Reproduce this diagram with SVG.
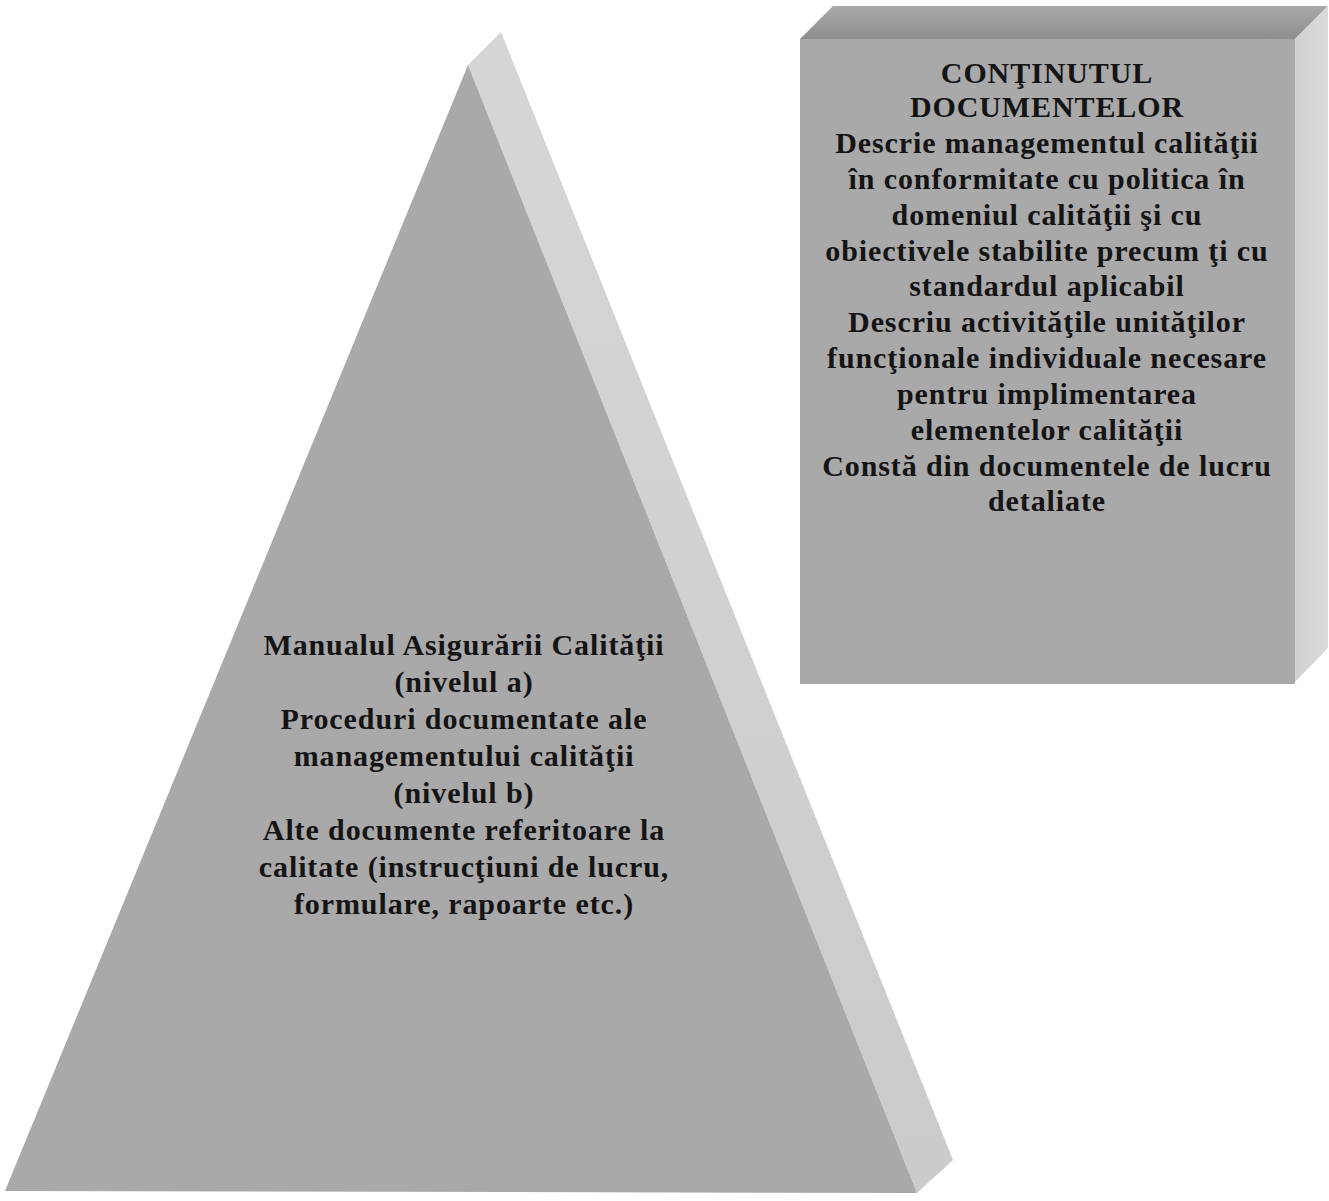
<svg xmlns="http://www.w3.org/2000/svg" width="1329" height="1201" viewBox="0 0 1329 1201">
<defs>
<linearGradient id="gTop" x1="0" y1="1" x2="0" y2="0">
<stop offset="0" stop-color="#8e8e8e"/>
<stop offset="1" stop-color="#a9a9a9"/>
</linearGradient>
<linearGradient id="gSide" x1="0" y1="0" x2="1" y2="0">
<stop offset="0" stop-color="#cfcfcf"/>
<stop offset="1" stop-color="#dcdcdc"/>
</linearGradient>
<linearGradient id="gPyrSide" x1="0" y1="0" x2="0" y2="1">
<stop offset="0" stop-color="#d6d6d6"/>
<stop offset="1" stop-color="#cbcbcb"/>
</linearGradient>
<style>
.t{font-family:"Liberation Serif","Times New Roman",serif;font-weight:bold;font-size:30px;letter-spacing:0.9px;fill:#141414;text-anchor:middle}
.front{fill:#a9a9a9}
</style>
</defs>
<rect width="1329" height="1201" fill="#ffffff"/>
<g id="pyramid">
<polygon points="468,65 501,32 953,1160 917,1193" fill="url(#gPyrSide)"/>
<polygon class="front" points="468,65 917,1193 5,1191"/>
<text class="t" x="464" y="655">Manualul Asigurării Calităţii</text>
<text class="t" x="464" y="692">(nivelul a)</text>
<text class="t" x="464" y="729">Proceduri documentate ale</text>
<text class="t" x="464" y="766">managementului calităţii</text>
<text class="t" x="464" y="803">(nivelul b)</text>
<text class="t" x="464" y="840">Alte documente referitoare la</text>
<text class="t" x="464" y="877">calitate (instrucţiuni de lucru,</text>
<text class="t" x="464" y="914">formulare, rapoarte etc.)</text>
</g>
<g id="box">
<polygon points="800,39 833,6 1328,6 1295,39" fill="url(#gTop)"/>
<polygon points="1295,39 1328,6 1328,648 1293,684" fill="url(#gSide)"/>
<rect class="front" x="800" y="39" width="495" height="645"/>
<text class="t" x="1047" y="83">CONŢINUTUL</text>
<text class="t" x="1047" y="117">DOCUMENTELOR</text>
<text class="t" x="1047" y="153">Descrie managementul calităţii</text>
<text class="t" x="1047" y="189">în conformitate cu politica în</text>
<text class="t" x="1047" y="225">domeniul calităţii şi cu</text>
<text class="t" x="1047" y="261">obiectivele stabilite precum ţi cu</text>
<text class="t" x="1047" y="296">standardul aplicabil</text>
<text class="t" x="1047" y="332">Descriu activităţile unităţilor</text>
<text class="t" x="1047" y="368">funcţionale individuale necesare</text>
<text class="t" x="1047" y="404">pentru implimentarea</text>
<text class="t" x="1047" y="440">elementelor calităţii</text>
<text class="t" x="1047" y="476">Constă din documentele de lucru</text>
<text class="t" x="1047" y="511">detaliate</text>
</g>
</svg>
